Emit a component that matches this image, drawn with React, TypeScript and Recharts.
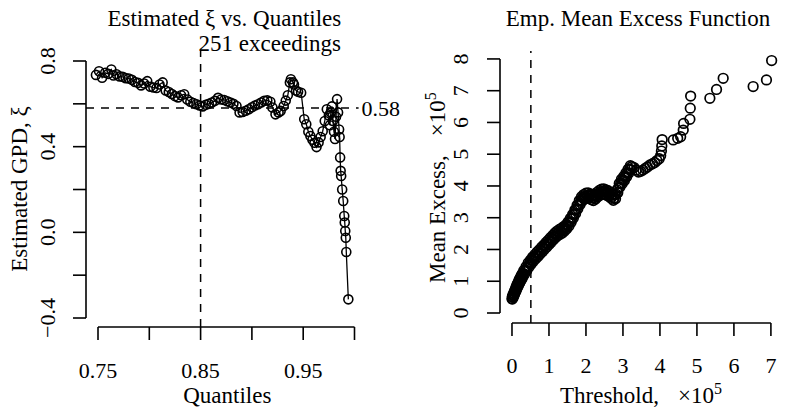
import React from 'react';
import { LineChart, Line, XAxis, YAxis, ReferenceLine, ScatterChart, Scatter } from 'recharts';

// ---------------- data: left panel (shape estimate vs quantile) ----------------
const quantiles = [
  0.748, 0.751, 0.754, 0.757, 0.760, 0.763, 0.765, 0.768, 0.771, 0.774,
  0.777, 0.780, 0.783, 0.786, 0.789, 0.792, 0.795, 0.798, 0.801, 0.804,
  0.807, 0.810, 0.813, 0.816, 0.819, 0.822, 0.825, 0.828, 0.831, 0.834,
  0.837, 0.840, 0.843, 0.846, 0.849, 0.852, 0.855, 0.858, 0.861, 0.864,
  0.867, 0.870, 0.873, 0.876, 0.879, 0.882, 0.885, 0.888, 0.891, 0.894,
  0.897, 0.900, 0.903, 0.906, 0.909, 0.912, 0.915, 0.918, 0.920, 0.923,
  0.926, 0.928, 0.931, 0.933, 0.935, 0.937, 0.938, 0.940, 0.941, 0.943,
  0.945, 0.948, 0.951, 0.953, 0.955, 0.957, 0.959, 0.961, 0.963, 0.965,
  0.967, 0.969, 0.971, 0.973, 0.975, 0.976, 0.977, 0.978, 0.979, 0.980,
  0.981, 0.982, 0.983, 0.984, 0.985, 0.9855, 0.986, 0.9865, 0.987, 0.988,
  0.989, 0.990, 0.9905, 0.991, 0.9915, 0.992, 0.994,
];
const xiEstimates = [
  0.735, 0.752, 0.722, 0.745, 0.740, 0.760, 0.732, 0.738, 0.728, 0.726,
  0.720, 0.718, 0.712, 0.702, 0.698, 0.686, 0.695, 0.706, 0.680, 0.676,
  0.674, 0.690, 0.700, 0.662, 0.655, 0.646, 0.636, 0.630, 0.640, 0.645,
  0.620, 0.610, 0.604, 0.598, 0.592, 0.588, 0.596, 0.600, 0.606, 0.614,
  0.628, 0.620, 0.618, 0.612, 0.606, 0.600, 0.590, 0.560, 0.562, 0.568,
  0.575, 0.584, 0.592, 0.598, 0.606, 0.614, 0.616, 0.610, 0.583, 0.551,
  0.560, 0.567, 0.590, 0.615, 0.640, 0.700, 0.715, 0.700, 0.690, 0.662,
  0.656, 0.652, 0.528, 0.505, 0.470, 0.450, 0.432, 0.418, 0.398, 0.420,
  0.445, 0.472, 0.520, 0.575, 0.545, 0.500, 0.560, 0.588, 0.520, 0.470,
  0.436, 0.540, 0.622, 0.560, 0.480, 0.445, 0.350, 0.287, 0.263, 0.200,
  0.146, 0.076, 0.046, 0.006, -0.025, -0.092, -0.313,
];
const quantileTicks = [0.75, 0.8, 0.85, 0.9, 0.95, 1.0];
const quantileTickLabels = ['0.75', '', '0.85', '', '0.95', ''];
const xiTicks = [-0.4, -0.2, 0, 0.2, 0.4, 0.6, 0.8];
const xiTickLabels = ['\u22120.4', '', '0.0', '', '0.4', '', '0.8'];
const selectedQuantile = 0.85;
const selectedXi = 0.58;
const exceedings = 251;

// ---------------- data: right panel (empirical mean excess, units of 1e5) ----------------
const thresholds = [
  0.00, 0.01, 0.01, 0.02, 0.03, 0.03, 0.04, 0.05, 0.05, 0.06,
  0.07, 0.07, 0.08, 0.09, 0.09, 0.10, 0.11, 0.11, 0.12, 0.13,
  0.13, 0.14, 0.15, 0.15, 0.16, 0.17, 0.17, 0.18, 0.19, 0.19,
  0.20, 0.21, 0.21, 0.22, 0.23, 0.23, 0.24, 0.25, 0.25, 0.26,
  0.27, 0.27, 0.28, 0.29, 0.29, 0.30,
  0.32, 0.34, 0.36, 0.38, 0.40, 0.42, 0.44, 0.46, 0.48, 0.50,
  0.52, 0.54, 0.56, 0.58, 0.60, 0.62, 0.64, 0.66, 0.68, 0.70,
  0.72, 0.74, 0.76, 0.78, 0.80, 0.82, 0.84, 0.86, 0.88, 0.90,
  0.92, 0.94, 0.96, 0.98, 1.00, 1.02, 1.04, 1.06, 1.08, 1.10,
  1.12, 1.14, 1.16, 1.18, 1.20, 1.22, 1.24, 1.26, 1.28, 1.30,
  1.32, 1.34, 1.36, 1.38, 1.40, 1.42, 1.44, 1.46, 1.48, 1.50,
  1.52, 1.54, 1.56, 1.58, 1.60, 1.62, 1.64, 1.66, 1.68, 1.70,
  1.72, 1.74, 1.76, 1.78, 1.80, 1.82, 1.84, 1.86, 1.88, 1.90,
  1.92, 1.94, 1.96, 1.98, 2.00, 2.02, 2.04, 2.06, 2.08, 2.10,
  2.12, 2.14, 2.16, 2.18, 2.20, 2.22, 2.24, 2.26, 2.28, 2.30,
  2.32, 2.34, 2.36, 2.38, 2.40, 2.42, 2.44, 2.46, 2.48, 2.50,
  2.52, 2.54, 2.56, 2.58, 2.60, 2.62, 2.64, 2.66, 2.68, 2.70,
  2.72, 2.74, 2.76, 2.78, 2.80, 2.82, 2.84, 2.86, 2.88, 2.90,
  2.92, 2.94, 2.96, 2.98, 3.00, 3.02, 3.04, 3.06, 3.08, 3.10,
  3.12, 3.14, 3.16, 3.18, 3.20, 3.22, 3.24,
  3.30, 3.36, 3.42, 3.48, 3.54, 3.60, 3.66, 3.73, 3.80, 3.86,
  3.92, 3.98, 4.02, 4.04, 4.05, 4.06, 4.36, 4.48, 4.56, 4.63,
  4.64, 4.81, 4.82, 4.83, 5.35, 5.53, 5.71, 6.52, 6.88, 7.02,
];
const meanExcess = [
  0.45, 0.52, 0.44, 0.50, 0.58, 0.49, 0.55, 0.63, 0.54, 0.61,
  0.69, 0.59, 0.66, 0.75, 0.65, 0.72, 0.81, 0.70, 0.78, 0.87,
  0.76, 0.84, 0.92, 0.81, 0.89, 0.97, 0.86, 0.94, 1.03, 0.91,
  1.00, 1.08, 0.96, 1.05, 1.12, 1.00, 1.09, 1.17, 1.05, 1.14,
  1.21, 1.09, 1.18, 1.25, 1.13, 1.22,
  1.34, 1.22, 1.34, 1.46, 1.34, 1.46, 1.58, 1.45, 1.56, 1.67,
  1.54, 1.65, 1.76, 1.63, 1.74, 1.84, 1.71, 1.81, 1.92, 1.78,
  1.89, 1.99, 1.86, 1.96, 2.07, 1.93, 2.04, 2.14, 2.01, 2.11,
  2.22, 2.08, 2.19, 2.29, 2.16, 2.26, 2.37, 2.23, 2.34, 2.44,
  2.31, 2.41, 2.52, 2.38, 2.49, 2.58, 2.44, 2.53, 2.63, 2.48,
  2.57, 2.67, 2.52, 2.62, 2.72, 2.58, 2.68, 2.78, 2.65, 2.76,
  2.87, 2.74, 2.86, 2.98, 2.86, 2.98, 3.10, 2.99, 3.11, 3.24,
  3.13, 3.26, 3.39, 3.28, 3.41, 3.54, 3.42, 3.54, 3.66, 3.53,
  3.63, 3.73, 3.59, 3.68, 3.77, 3.62, 3.70, 3.78, 3.61, 3.68,
  3.75, 3.57, 3.64, 3.71, 3.54, 3.63, 3.73, 3.59, 3.69, 3.80,
  3.66, 3.76, 3.86, 3.71, 3.81, 3.90, 3.75, 3.83, 3.91, 3.74,
  3.81, 3.88, 3.71, 3.78, 3.85, 3.67, 3.73, 3.79, 3.61, 3.67,
  3.73, 3.55, 3.62, 3.72, 3.60, 3.74, 3.88, 3.79, 3.94, 4.08,
  3.97, 4.09, 4.21, 4.08, 4.19, 4.30, 4.17, 4.29, 4.41, 4.29,
  4.41, 4.53, 4.41, 4.53, 4.64, 4.51, 4.61,
  4.58, 4.50, 4.44, 4.46, 4.50, 4.55, 4.60, 4.66, 4.70, 4.74,
  4.80, 4.86, 4.96, 5.10, 5.26, 5.46, 5.45, 5.50, 5.55, 5.76,
  5.97, 6.10, 6.45, 6.83, 6.76, 7.04, 7.39, 7.13, 7.34, 7.95,
];
const thresholdTicks = [0, 1, 2, 3, 4, 5, 6, 7];
const meanExcessTicks = [0, 1, 2, 3, 4, 5, 6, 7, 8];
const selectedThreshold = 0.51;

// ---------------- layout ----------------
const FONT = '"Liberation Serif", "Times New Roman", serif';
const FS = 23;
const TFS = 22;

const L = { width: 420, height: 414, left: 86, right: 358.6, top: 51, bottom: 327 };
const LX_DOMAIN: [number, number] = [0.7383, 1.004];
const LY_DOMAIN: [number, number] = [-0.442, 0.8467];

const R = { offset: 400, width: 386, height: 414, left: 100, right: 382, top: 51, bottom: 323 };
const RX_DOMAIN: [number, number] = [-0.324, 7.3];
const RY_DOMAIN: [number, number] = [-0.315, 8.25];

const AXIS_W = 60;
const AXIS_H = 60;

const leftData = quantiles.map((q, i) => ({ q, xi: xiEstimates[i] }));
const rightData = thresholds.map((x, i) => ({ x, y: meanExcess[i] }));

const QuantileTick = (props: any) => {
  const { x, payload } = props;
  const label = quantileTickLabels[quantileTicks.indexOf(payload.value)] || '';
  return (
    <text x={x} y={L.bottom + 51} textAnchor="middle" fontSize={TFS} fontFamily={FONT} fill="#000">
      {label}
    </text>
  );
};

const XiTick = (props: any) => {
  const { y, payload } = props;
  const label = xiTickLabels[xiTicks.indexOf(payload.value)] || '';
  const bx = L.left - 31;
  return (
    <text transform={`rotate(-90 ${bx} ${y})`} x={bx} y={y} textAnchor="middle" fontSize={TFS} fontFamily={FONT} fill="#000">
      {label}
    </text>
  );
};

const ThresholdTick = (props: any) => {
  const { x, payload } = props;
  return (
    <text x={x} y={R.bottom + 50} textAnchor="middle" fontSize={TFS} fontFamily={FONT} fill="#000">
      {String(payload.value)}
    </text>
  );
};

const MeTick = (props: any) => {
  const { y, payload } = props;
  const bx = R.left - 32;
  return (
    <text transform={`rotate(-90 ${bx} ${y})`} x={bx} y={y} textAnchor="middle" fontSize={TFS} fontFamily={FONT} fill="#000">
      {String(payload.value)}
    </text>
  );
};

const ExceedLabel = (props: any) => {
  const vb = props.viewBox || { x: 0, y: 0 };
  return (
    <text x={vb.x - 2} y={vb.y} textAnchor="start" fontSize={FS} fontFamily={FONT} fill="#000">
      {`${exceedings} exceedings`}
    </text>
  );
};

const Ring = (props: any) => (
  <circle cx={props.cx} cy={props.cy} r={4.8} fill="none" stroke="#000" strokeWidth={1.7} />
);

export default function App() {
  return (
    <div style={{ position: 'absolute', left: 0, top: 0, width: 786, height: 414, background: '#fff', overflow: 'hidden' }}>
      <div style={{ position: 'absolute', left: 0, top: 0 }}>
        <LineChart
          width={L.width}
          height={L.height}
          data={leftData}
          margin={{ top: L.top, right: L.width - L.right, bottom: L.height - L.bottom - AXIS_H, left: L.left - AXIS_W }}
        >
          <XAxis
            type="number"
            dataKey="q"
            domain={LX_DOMAIN}
            allowDataOverflow
            ticks={quantileTicks}
            interval={0}
            height={AXIS_H}
            axisLine={false}
            tickSize={13}
            tickLine={{ stroke: '#000', strokeWidth: 1.6 }}
            tick={<QuantileTick />}
          />
          <YAxis
            type="number"
            domain={LY_DOMAIN}
            allowDataOverflow
            ticks={xiTicks}
            interval={0}
            width={AXIS_W}
            axisLine={false}
            tickSize={13}
            tickLine={{ stroke: '#000', strokeWidth: 1.6 }}
            tick={<XiTick />}
          />
          <ReferenceLine
            segment={[{ x: quantileTicks[0], y: LY_DOMAIN[0] }, { x: quantileTicks[quantileTicks.length - 1], y: LY_DOMAIN[0] }]}
            stroke="#000"
            strokeWidth={1.6}
            ifOverflow="visible"
          />
          <ReferenceLine
            segment={[{ x: LX_DOMAIN[0], y: xiTicks[0] }, { x: LX_DOMAIN[0], y: xiTicks[xiTicks.length - 1] }]}
            stroke="#000"
            strokeWidth={1.6}
            ifOverflow="visible"
          />
          <ReferenceLine
            x={selectedQuantile}
            stroke="#000"
            strokeWidth={1.5}
            strokeDasharray="8 7"
            label={<ExceedLabel />}
          />
          <ReferenceLine
            y={selectedXi}
            stroke="#000"
            strokeWidth={1.5}
            strokeDasharray="8 7"
            label={{ value: String(selectedXi), position: 'right', offset: 3, fill: '#000', fontSize: TFS, fontFamily: FONT }}
          />
          <Line
            type="linear"
            dataKey="xi"
            stroke="#000"
            strokeWidth={1.3}
            dot={{ r: 4.5, stroke: '#000', strokeWidth: 1.6, fill: 'none' }}
            activeDot={false}
            isAnimationActive={false}
          />
        </LineChart>
      </div>
      <div style={{ position: 'absolute', left: R.offset, top: 0 }}>
        <ScatterChart
          width={R.width}
          height={R.height}
          margin={{ top: R.top, right: R.width - R.right, bottom: R.height - R.bottom - AXIS_H, left: R.left - AXIS_W }}
        >
          <XAxis
            type="number"
            dataKey="x"
            domain={RX_DOMAIN}
            allowDataOverflow
            ticks={thresholdTicks}
            interval={0}
            height={AXIS_H}
            axisLine={false}
            tickSize={13}
            tickLine={{ stroke: '#000', strokeWidth: 1.6 }}
            tick={<ThresholdTick />}
          />
          <YAxis
            type="number"
            dataKey="y"
            domain={RY_DOMAIN}
            allowDataOverflow
            ticks={meanExcessTicks}
            interval={0}
            width={AXIS_W}
            axisLine={false}
            tickSize={13}
            tickLine={{ stroke: '#000', strokeWidth: 1.6 }}
            tick={<MeTick />}
          />
          <ReferenceLine
            segment={[{ x: thresholdTicks[0], y: RY_DOMAIN[0] }, { x: thresholdTicks[thresholdTicks.length - 1], y: RY_DOMAIN[0] }]}
            stroke="#000"
            strokeWidth={1.6}
            ifOverflow="visible"
          />
          <ReferenceLine
            segment={[{ x: RX_DOMAIN[0], y: meanExcessTicks[0] }, { x: RX_DOMAIN[0], y: meanExcessTicks[meanExcessTicks.length - 1] }]}
            stroke="#000"
            strokeWidth={1.6}
            ifOverflow="visible"
          />
          <ReferenceLine x={selectedThreshold} stroke="#000" strokeWidth={1.5} strokeDasharray="8 7" />
          <Scatter data={rightData} shape={<Ring />} isAnimationActive={false} />
        </ScatterChart>
      </div>
      <svg
        width={786}
        height={414}
        style={{ position: 'absolute', left: 0, top: 0, pointerEvents: 'none' }}
        fontFamily={FONT}
        fill="#000"
      >
        <text x={(L.left + L.right) / 2 + 2} y={26} textAnchor="middle" fontSize={FS}>Estimated ξ vs. Quantiles</text>
        <text x={(L.left + L.right) / 2 + 5} y={403} textAnchor="middle" fontSize={FS}>Quantiles</text>
        <text transform={`rotate(-90 27 ${(L.top + L.bottom) / 2})`} x={27} y={(L.top + L.bottom) / 2} textAnchor="middle" fontSize={FS}>
          Estimated GPD, ξ
        </text>
        <text x={R.offset + (R.left + R.right) / 2 - 3} y={26} textAnchor="middle" fontSize={FS}>Emp. Mean Excess Function</text>
        <text x={560} y={403} fontSize={FS}>
          Threshold,
          <tspan dx={19}>×10</tspan>
          <tspan dy={-9} fontSize={16}>5</tspan>
        </text>
        <text transform={`rotate(-90 445 283)`} x={445} y={283} fontSize={FS}>
          Mean Excess,
          <tspan dx={19}>×10</tspan>
          <tspan dy={-9} fontSize={16}>5</tspan>
        </text>
      </svg>
    </div>
  );
}
